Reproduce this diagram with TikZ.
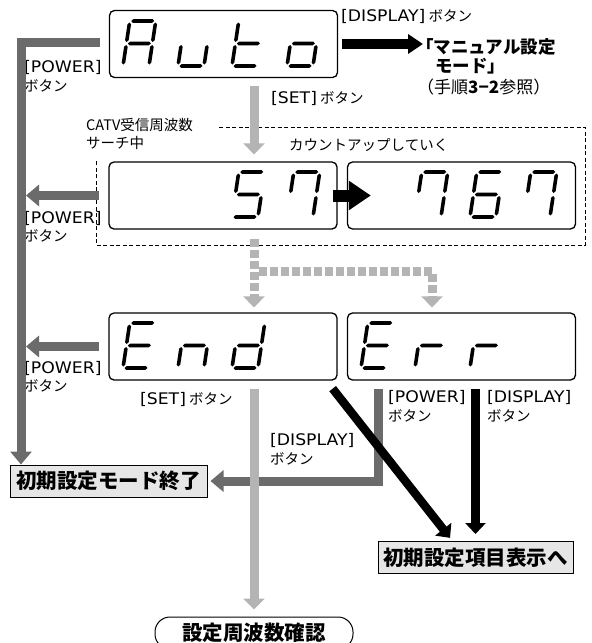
\documentclass[tikz,border=0pt]{standalone}
\usepackage{fontspec}
\setmainfont{Noto Sans CJK JP}
\newfontfamily\lat[Scale=1.1,FakeStretch=1.08]{DejaVu Sans}
\usetikzlibrary{arrows.meta}

\definecolor{railgray}{HTML}{6B6B6B}
\definecolor{setgray}{HTML}{B4B4B4}
\definecolor{boxgray}{HTML}{E6E6E6}

\newcommand\btnkey[1]{{\lat[#1]}}
% lcd segments, local y upwards
\newcommand\lcdsega{\fill (1.5,45) -- (3.3,46.8) -- (22.7,46.8) -- (24.5,45) -- (22.7,43.2) -- (3.3,43.2) -- cycle;}
\newcommand\lcdsegg{\fill (1.5,22.5) -- (3.3,24.3) -- (22.7,24.3) -- (24.5,22.5) -- (22.7,20.7) -- (3.3,20.7) -- cycle;}
\newcommand\lcdsegd{\fill (1.5,0) -- (3.3,1.8) -- (22.7,1.8) -- (24.5,0) -- (22.7,-1.8) -- (3.3,-1.8) -- cycle;}
\newcommand\lcdsegf{\fill (0,24) -- (1.8,25.8) -- (1.8,41.7) -- (0,43.5) -- (-1.8,41.7) -- (-1.8,25.8) -- cycle;}
\newcommand\lcdsege{\fill (0,1.5) -- (1.8,3.3) -- (1.8,19.2) -- (0,21) -- (-1.8,19.2) -- (-1.8,3.3) -- cycle;}
\newcommand\lcdsegb{\fill (26,24) -- (27.8,25.8) -- (27.8,41.7) -- (26,43.5) -- (24.2,41.7) -- (24.2,25.8) -- cycle;}
\newcommand\lcdsegc{\fill (26,1.5) -- (27.8,3.3) -- (27.8,19.2) -- (26,21) -- (24.2,19.2) -- (24.2,3.3) -- cycle;}
\newcommand\lcd[3]{\begin{scope}[shift={(#1,#2)},xslant=0.15,yscale=-1]
\foreach \s in {#3}{\csname lcdseg\s\endcsname}
\end{scope}}

\begin{document}
\begin{tikzpicture}[x=1pt,y=-1pt,
  disp/.style={draw,line width=1.3pt,rounded corners=5pt,minimum width=228pt,minimum height=67pt,inner sep=0},
  lbl/.style={inner sep=0,anchor=base west,align=left,font=\fontsize{14.5}{18.5}\selectfont},
  goal/.style={draw,line width=1pt,fill=boxgray,inner sep=0,minimum height=32pt,font=\fontsize{20.5}{24}\selectfont\bfseries},
  railarr/.style={draw=railgray,line width=9pt,-{Triangle[width=21pt,length=13pt]}},
  setarr/.style={draw=setgray,line width=9pt,-{Triangle[width=21pt,length=11pt]}},
  blkarr/.style={draw=black,line width=9pt,-{Triangle[width=20pt,length=11pt]}},
  dotarr/.style={setarr,dash pattern=on 8pt off 3pt},
  scanbox/.style={line width=0.8pt,dash pattern=on 4pt off 2.5pt}]
\useasboundingbox (0,0) rectangle (592,643);

% displays
\node[disp] (auto) at (223.5,44) {};
\node[disp] (c57) at (223,195.5) {};
\node[disp] (c767) at (461.5,195.5) {};
\node[disp] (cend) at (223,346.5) {};
\node[disp] (cerr) at (461.5,346.5) {};

\lcd{123}{66}{a,b,c,e,f,g} \lcd{178}{66}{c,d,e} \lcd{232}{66}{d,e,f,g} \lcd{287}{66}{c,d,e,g}
\lcd{232}{217}{a,c,d,f,g} \lcd{287}{217}{a,b,c,f}
\lcd{415}{217}{a,b,c,f} \lcd{470}{217}{a,c,d,e,f,g} \lcd{524}{217}{a,b,c,f}
\lcd{123}{368}{a,d,e,f,g} \lcd{178}{368}{c,e,g} \lcd{232}{368}{b,c,d,e,g}
\lcd{361}{368}{a,d,e,f,g} \lcd{415}{368}{e,g} \lcd{470}{368}{e,g}

% end boxes
\node[goal,minimum width=197pt] (quit) at (108.5,481) {初期設定モード終了};
\node[goal,minimum width=195pt] (items) at (475.5,557.5) {初期設定項目表示へ};
\node[draw,line width=1pt,rounded corners=15pt,fill=white,minimum width=198pt,minimum height=32pt,
  font=\fontsize{20.5}{24}\selectfont\bfseries] (confirm) at (254,633) {設定周波数確認};

% labels (two-line labels sit on their last line)
\node[lbl] (dspT) at (341,21) {\btnkey{DISPLAY} ボタン};
\node[lbl,font=\fontsize{17.5}{20}\selectfont\bfseries] (manual) at (416,53.5) {「マニュアル設定};
\node[lbl,font=\fontsize{17.5}{20}\selectfont\bfseries] (mode) at (435,72.5) {モード」};
\node[lbl,font=\fontsize{17}{20}\selectfont] (ref) at (417,93) {（手順\textbf{3−2}参照）};
\node[lbl] (pw1) at (24,91) {\btnkey{POWER}\\ボタン};
\node[lbl] (setT) at (271,103) {\btnkey{SET} ボタン};
\node[lbl] (catv) at (86,130.5) {CATV受信周波数};
\node[lbl] (scan) at (86,148.5) {サーチ中};
\node[lbl] (count) at (289,150.5) {カウントアップしていく};
\node[lbl] (pw2) at (24,241.5) {\btnkey{POWER}\\ボタン};
\node[lbl] (pw3) at (24,391.5) {\btnkey{POWER}\\ボタン};
\node[lbl] (setB) at (140,404) {\btnkey{SET} ボタン};
\node[lbl] (pwE) at (388,421) {\btnkey{POWER}\\ボタン};
\node[lbl] (dspE) at (487,421) {\btnkey{DISPLAY}\\ボタン};
\node[lbl] (dspM) at (270,464) {\btnkey{DISPLAY}\\ボタン};

% search frame
\draw[scanbox] (219,127) -- (585,127) -- (585,245) -- (96,245) -- (96,160);

\coordinate (rail) at (26,0);
\coordinate (setx) at (254,0);
\coordinate (split) at (254,271);
\coordinate (errx) at (432,0);
\coordinate (errpw) at (378.5,0);

% POWER
\draw[railarr] ([shift={(-9pt,2pt)}]auto.west) -| ([xshift=11.5pt]quit.north west);
\draw[railarr] ([xshift=-9pt]c57.west) -- (rail |- c57.west);
\draw[railarr] ([xshift=-9pt]cend.west) -- (rail |- cend.west);
\draw[railarr,shorten <=8pt,shorten >=3pt] (errpw |- cerr.south) |- (quit.east);

% SET
\draw[setarr,shorten <=8pt,shorten >=7pt] (setx |- auto.south) -- (setx |- c57.north);
\draw[dotarr,shorten <=9pt,shorten >=5pt] (setx |- c57.south) -- (setx |- cend.north);
\draw[dotarr,shorten >=5pt] ([xshift=4.5pt]split) -| (errx |- cerr.north);
\draw[setarr,shorten <=8pt,shorten >=7pt] (setx |- cend.south) -- (confirm.north);

% DISPLAY
\draw[blkarr,line width=10pt,-{Triangle[width=19pt,length=15pt]}] ([xshift=4pt]auto.east) -- ([xshift=7pt]auto.east -| manual.west);
\draw[blkarr,line width=12pt,-{Triangle[width=28pt,length=22pt]}] ([xshift=-5pt]c57.east) -- ([xshift=24pt]c767.west);
\draw[blkarr,shorten <=8pt,shorten >=7pt] (items.north |- cerr.south) -- (items.north);
\draw[blkarr,line width=8.5pt,shorten >=4pt] ([shift={(-5pt,-8pt)}]cend.south east) -- ([xshift=-23pt]items.north);
\end{tikzpicture}
\end{document}
